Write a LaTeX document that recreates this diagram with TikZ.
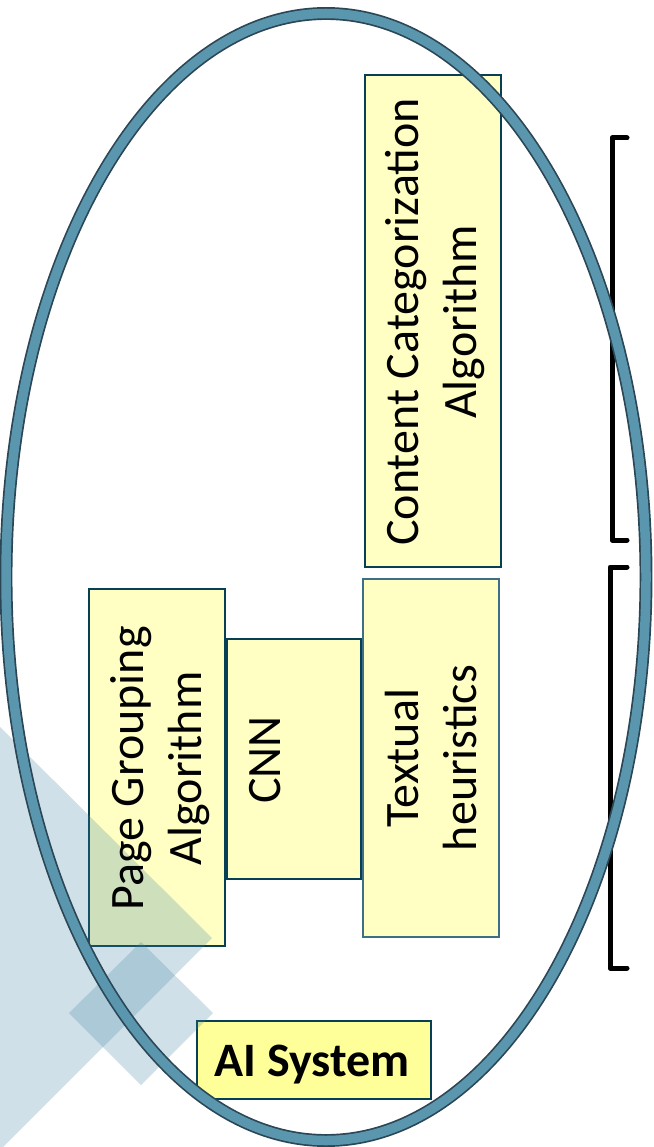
\documentclass[tikz,border=0pt]{standalone}
\usepackage{fontspec}
\setmainfont{Carlito}
\usetikzlibrary{shapes.geometric}
\definecolor{boxfill}{HTML}{FFFFC4}
\definecolor{aifill}{HTML}{FFFF99}
\definecolor{boxline}{HTML}{073F55}
\definecolor{softline}{HTML}{3F6F87}
\definecolor{ringfill}{HTML}{5B96AF}
\definecolor{ringline}{HTML}{2B4654}
\definecolor{shade}{HTML}{3F83A3}
\tikzset{
  boxtext/.style={rotate=90,inner sep=0pt,align=center,font=\fontsize{48}{58}\selectfont},
  algobox/.style={boxtext,draw=boxline,line width=2pt,fill=boxfill},
  tile/.style={fill=shade,fill opacity=0.25,draw=none},
  bracketline/.style={draw=black,line width=5pt,line cap=round,line join=round},
}
\begin{document}
\begin{tikzpicture}[x=1pt,y=-1pt]
\useasboundingbox (0,0) rectangle (653,1147);
% boxes
\node[algobox,minimum width=492pt,minimum height=136pt] (content) at (433,321) {};
\node[algobox,minimum width=358pt,minimum height=136pt,draw=softline] (textual) at (431,758) {};
\node[algobox,minimum width=240pt,minimum height=134pt] (cnn) at (294,759) {};
\node[algobox,minimum width=357pt,minimum height=136pt] (page) at (157,767.5) {};
\node[draw=boxline,line width=2pt,fill=aifill,minimum width=234pt,minimum height=78pt,inner sep=0pt] (ai) at (314,1060) {};
% background tiles
\path[tile] (-2,725) -- (212,938) -- (-2,1152) -- cycle;
\path[tile] (141,942) -- (213,1013) -- (141,1085) -- (69,1013) -- cycle;
% texts
\node[boxtext] (contenttext) at (435.5,322) {Content Categorization\\Algorithm};
\node[boxtext] (textualtext) at (431,758) {Textual\\heuristics};
\node[boxtext] (cnntext) at (294,760) {CNN\\\mbox{}};
\node[boxtext] (pagetext) at (160,768.5) {Page Grouping\\Algorithm};
\node[font=\fontsize{48}{58}\selectfont\bfseries,inner sep=0pt] (aitext) at (312,1065) {AI System};
% brackets
\coordinate (ta) at (627,138); \coordinate (tb) at (612,138); \coordinate (tc) at (612,540); \coordinate (td) at (627,540);
\coordinate (ba) at (627,567); \coordinate (bb) at (610,567); \coordinate (bc) at (610,968); \coordinate (bd) at (627,968);
\draw[bracketline] (ta) -- (tb) -- (tc) -- (td);
\draw[bracketline] (ba) -- (bb) -- (bc) -- (bd);
% ring
\node[ellipse,draw=ringline,line width=1.7pt,double=ringfill,double distance=9.5pt,
  minimum width=640pt,minimum height=1127pt,inner sep=0pt,fill=none] (ring) at (326,577) {};
\end{tikzpicture}
\end{document}
